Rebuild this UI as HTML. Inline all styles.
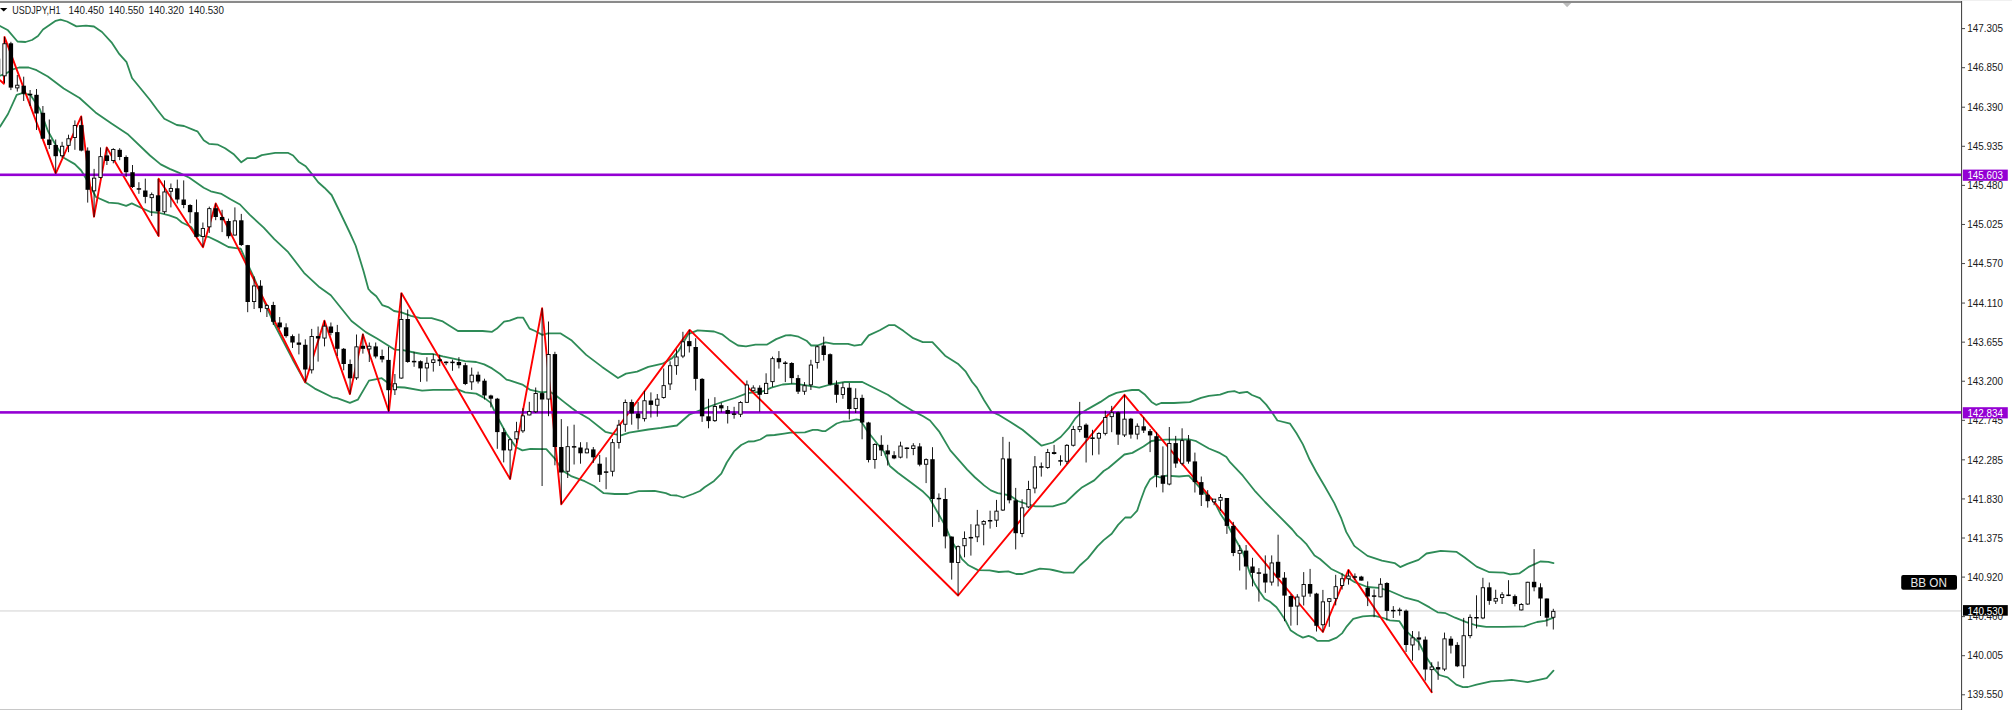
<!DOCTYPE html><html><head><meta charset="utf-8"><style>html,body{margin:0;padding:0;background:#fff;overflow:hidden}svg{display:block}text{font-family:"Liberation Sans",sans-serif}</style></head><body>
<svg width="2012" height="710" viewBox="0 0 2012 710">
<rect x="0" y="0" width="2012" height="710" fill="#fff"/>
<rect x="0" y="0" width="2012" height="1" fill="#f0f0f0"/>
<rect x="0" y="1" width="1962" height="2" fill="#8a8a8a"/>
<polygon points="1563,3 1571.3,3 1567.1,7.3" fill="#bdbdbd"/>
<rect x="0" y="610.3" width="1961" height="1.3" fill="#dcdcdc"/>
<polyline points="0,26 8,30.3 17.5,41.5 25.5,42 32,40 38,36 43,29.5 55.7,20.8 60.5,19.6 67,21.5 76.4,26.4 86,25.6 94,26.5 102,32 111.5,42.3 119.4,54.2 126.6,62.2 132,78 143.3,91.7 150,100 157.2,109.8 164.3,118.8 176.8,125 184,126 194.7,130.4 197.4,131.3 203.7,140.3 209,143.8 218,144.7 225.1,148.3 234.1,154.6 241.3,162.3 247.5,158.1 255.6,158.1 261.8,155.1 275.2,152.8 287.8,152.8 293.1,155.5 298.5,161.7 305.7,166.2 312.8,175.1 318.2,182.3 324.4,187.7 331.6,195 339.9,212 349.7,232.5 355.6,245.5 358.6,255 363.5,271 368.4,289 371.4,292.3 376.3,296.3 382.2,305.1 388.1,307.1 394,311 401.4,312.4 410.9,315.8 420.5,318.2 431.6,318.2 442.8,321.4 449.1,325.4 457.9,331 482.6,331 492.1,331.8 496.9,328.6 504.1,321.7 509.6,320.6 517.6,317.7 523.2,317.7 529.6,328.6 535.1,331 542.3,334.9 547.9,333.3 560.7,333.4 571.8,340.6 586.2,354.9 602.1,366.9 618,378 626,373.6 637.1,371.7 648.3,366.9 662.6,363.7 672.2,358.1 678.5,351 688.1,334.2 697.6,330.3 714.1,331.5 722.1,334.3 729.2,339.9 738,345.5 746,346.3 755.5,344.7 766.7,344.7 776.2,339.1 785.8,335.4 790.5,335.1 798.5,336.7 806.5,340.7 811.2,345.5 817.6,345.5 825.6,342.3 833.5,343.9 848,343.8 854.3,345.7 861.5,344.6 868.7,335.4 879.8,330.3 888.6,325.2 894.9,325.2 903.7,331.1 913.2,338.2 922.8,342.2 932.4,342.2 945.1,355.7 957.8,363.7 965.8,371.7 972.2,382 976.9,387.6 984.1,400.3 991.3,411.5 998.1,414.6 1010,421.8 1022.5,429.8 1032.1,437.8 1041.6,445.7 1052.8,442.5 1060.7,437 1068.7,428.2 1075.1,418.7 1079.8,413.9 1087.8,409.1 1100.5,401.9 1108.5,396.4 1116.5,392.9 1126,390.8 1132,390 1138.8,390 1145.1,394.8 1151.5,401.9 1156.4,404.9 1161.1,403 1173.9,403 1189.8,402.2 1201,397.9 1208.9,395.8 1220.1,394.7 1228,391.8 1234.4,391.1 1239.2,393 1247.1,391.8 1251.9,395 1259.9,398.2 1266.2,404.6 1272.6,413.3 1277.4,420.5 1290.1,423.7 1296.5,433.2 1302.9,444.4 1309.7,459.8 1316.3,472 1324.7,486.3 1334.3,503.1 1341.4,518.7 1346.2,531.9 1353.4,544.4 1354.8,546.4 1367.5,555.9 1381.9,560.7 1394.6,563.1 1400.2,567.1 1407.4,563.9 1418.5,559.9 1426.5,553.5 1440.8,550.8 1456.7,551.9 1464.7,557.5 1476.6,566.6 1489.4,572.2 1503.7,572.7 1510.1,574.3 1519.6,573.3 1529.2,566.6 1540.3,561.5 1548.3,561.8 1553.5,563.1" fill="none" stroke="#2e8b57" stroke-width="1.8" stroke-linejoin="round" stroke-linecap="round"/>
<polyline points="0,75.7 6.4,73.3 12.7,69.4 19,67.5 28.7,67.5 36.6,70.2 47.8,76.5 63.7,88.5 79.6,98 95.5,112.4 111.5,123.5 127.4,133.9 150,155.5 160.7,164.4 169.7,168.9 180.4,173.4 189.4,177.8 203.7,187.7 210.8,191.3 221.6,193.9 230.5,199.3 240,204.5 249.6,214.7 263.7,227.6 274.3,239.2 288.2,252.2 304,272.8 319.6,287.3 330.8,295.3 351.5,321 365.8,332.1 377,338.5 394.5,349.6 403,350.1 414.1,352.5 422.1,354 433.2,354 442.8,356.4 465,361.2 476.2,362 484.2,364.4 492.1,368.4 500.1,374 506.5,379.6 509.6,380.3 522.4,384.6 530.4,389.9 541.5,392.3 549.6,391.6 555.9,395.5 563.9,401.9 571.8,408 576.6,411.5 589.4,419.1 605.3,431.8 614.8,434.2 621.2,435.4 629.2,432.6 648.3,429.5 661,427.9 676.9,425.5 689.7,414.3 700,410.4 710.9,406 722.1,402 734.8,398 747.5,393.2 761.9,391.7 771.4,387.7 782.6,384.5 793.7,383.7 806.5,385.3 819.2,387.7 830.4,384.5 844.8,382 862.3,382 871.8,386.8 887.8,394.7 900.5,403.5 913.7,411.4 923.2,416.2 930,420.5 939,431.3 950.3,450.4 959.3,460.6 967.2,469.6 975.1,477.5 984.1,485.4 990.8,490.4 997.6,493.2 1002.1,493.8 1010,495.5 1017.7,501 1027.3,504.2 1035.3,506.3 1052.8,506.3 1065.5,502.6 1076.7,492 1081.4,487.8 1094.2,480.4 1103.7,471 1108.5,468 1124.4,454.5 1132.4,452.9 1143.5,446.5 1151.5,441 1157.9,440.2 1165.9,439.6 1189.8,439.5 1196.2,441.2 1208.9,448.5 1220.1,453.2 1226.4,457.1 1230,462.2 1242.8,475.7 1255.5,491.7 1265.1,502 1275.6,512.7 1281.6,518.7 1292.3,529.5 1297.1,535.4 1300.7,538.4 1306.7,544.4 1314.5,555.5 1320,559 1330.9,568.7 1342.1,574.2 1354.8,582.2 1367.5,587 1378.7,587.8 1389.8,591 1404.2,597.3 1418.5,601.2 1429.6,607.4 1437.6,612.3 1445.6,613.2 1455.1,617.7 1466.3,622.2 1476.6,625.5 1486.2,626.8 1503.7,626.8 1524.4,626.3 1530.8,624 1537.1,622 1545.1,620.8 1553.5,617.6" fill="none" stroke="#2e8b57" stroke-width="1.8" stroke-linejoin="round" stroke-linecap="round"/>
<polyline points="0,126.7 8,114 16.7,94.8 22.3,93.2 30.3,94.8 39.8,109 47.8,130.7 55.7,145 63.7,157.8 74.8,164.1 81.2,170.5 86,178.5 96,197 108.7,202.6 118.2,203.4 126.2,205.8 131.8,203.4 143.7,209 150,211.8 159.6,213 169.2,215.4 176.8,218.1 181.9,222.5 191.2,227 194.6,232.1 200,235.6 208.4,236.8 218,241.4 228.4,247 235.9,248.1 240.7,248.7 246.1,260.7 255,280 264,301 273.4,322.5 292.5,359.2 305.3,382.2 314.8,388.6 332.4,397.3 337.1,398.1 349.9,402.9 357.8,399.7 369,380.6 381.7,378.2 388.1,383 394.5,387 404.6,387.5 422.1,390.7 433.2,389.9 452.3,389.9 457.1,389.1 465.1,392.3 476.2,393.6 484.2,397.9 490.5,402.6 496.9,416.2 506.5,433.7 516,447.2 522.4,450.4 530.4,448.8 546.3,449.2 555.1,458.9 563.1,470.9 571.8,476.4 584.6,481.2 594.1,486 603.7,493.2 614.8,494 627.6,494 638.7,491.1 654.6,490.8 665.8,493.2 670.6,495.2 676.9,495.5 683.3,497.5 692.9,494 700,491 704.6,487.2 714.1,480.9 721.3,473.7 726.8,462.5 734,451.4 741.2,445 748.3,441.5 753.9,441.4 760.3,439.5 766.7,435.5 774.6,435 784.2,433.6 790.5,432.6 804.9,432.3 812.8,429.9 817.6,429.9 822.4,431.2 825.6,431 836.7,423.5 843.1,421.5 849.5,421.1 856.4,419.4 860.4,420.2 867.5,431.3 876.3,442.5 884.2,452 889.8,466 897.8,472.7 911.3,482.7 923.2,491.8 929.6,498.2 936.8,511 945,525.4 951.9,541.2 955.7,547.8 961.8,558.8 968.5,565.3 978,570.1 989.6,570.4 998.7,572 1008.3,571.3 1016.2,574 1022.6,574 1030,571.6 1040,568.7 1049.7,569.3 1052.8,570 1063.9,572.7 1073.5,572.7 1079.8,565.5 1087.8,558.4 1097.4,546.4 1103.7,540.1 1111.7,533.7 1118.1,524.9 1125.2,517.5 1130.8,517.5 1137.2,510.6 1140.4,501 1145.1,488.3 1149.9,479.6 1155.5,475.6 1160,477.5 1166.4,475.7 1179.1,476.5 1188.7,475.7 1195,482.1 1204.6,493.2 1214.1,501.2 1220.5,513.9 1226.9,523.5 1233.2,535.5 1242.8,552.2 1250,573.4 1254.5,583.5 1259.6,591.4 1264.6,598.7 1269.7,601.5 1276.5,607.2 1280.4,612.8 1284.9,619.5 1290.5,630.2 1297.3,634.8 1302.9,637.6 1308.6,635.9 1313.1,637.6 1317.6,640.9 1328.8,640.9 1336.7,637.6 1342.3,633.1 1346.8,626.3 1353.2,618.8 1362.8,616.4 1373.9,615.6 1383.5,618 1389.8,620.4 1399.4,621.2 1404.2,628.8 1410.5,635.2 1418.5,642 1426.5,657.5 1432.8,667.1 1439.2,675 1447.6,677.4 1456.3,684.6 1463,687.2 1467.9,687 1476.6,684.6 1491,681.4 1503.7,680.6 1511.7,679.8 1527.6,682.2 1538.7,679.8 1546.7,678.2 1553.5,670.6" fill="none" stroke="#2e8b57" stroke-width="1.8" stroke-linejoin="round" stroke-linecap="round"/>
<polyline points="0,80.2 3.9,83.7 4.5,36.9 55.7,173.7 81.2,116.4 94,216.7 106.7,147.4 158.7,236 158.7,178.8 203,247.2 215.7,203.4 305.3,382.2 324.4,320.6 349.9,394.1 362.9,334.5 388.9,411.7 401.4,293.1 510.1,479.1 542.1,308.3 561.3,504.3 689.7,329.9 958.1,595.5 1124.5,394.8 1322.9,632 1348.4,569.9 1431.7,692.2" fill="none" stroke="#ff0000" stroke-width="1.9" stroke-linejoin="round" stroke-linecap="round"/>
<rect x="0" y="173.5" width="1961" height="2.6" fill="#9400d3"/>
<rect x="0" y="411.1" width="1961" height="2.6" fill="#9400d3"/>
<g><line x1="-1.9" y1="55" x2="-1.9" y2="78" stroke="#000" stroke-width="0.9"/><line x1="4.5" y1="36.9" x2="4.5" y2="83.2" stroke="#000" stroke-width="0.9"/><line x1="10.9" y1="41.8" x2="10.9" y2="90.1" stroke="#000" stroke-width="0.9"/><line x1="17.3" y1="75" x2="17.3" y2="91.6" stroke="#000" stroke-width="0.9"/><line x1="23.7" y1="76.7" x2="23.7" y2="101" stroke="#000" stroke-width="0.9"/><line x1="30.1" y1="90" x2="30.1" y2="106" stroke="#000" stroke-width="0.9"/><line x1="36.5" y1="89" x2="36.5" y2="130" stroke="#000" stroke-width="0.9"/><line x1="42.9" y1="106" x2="42.9" y2="138.7" stroke="#000" stroke-width="0.9"/><line x1="49.3" y1="119.5" x2="49.3" y2="149" stroke="#000" stroke-width="0.9"/><line x1="55.7" y1="139.5" x2="55.7" y2="173.7" stroke="#000" stroke-width="0.9"/><line x1="62.1" y1="141.8" x2="62.1" y2="157.8" stroke="#000" stroke-width="0.9"/><line x1="68.5" y1="134.7" x2="68.5" y2="152.2" stroke="#000" stroke-width="0.9"/><line x1="74.9" y1="120.4" x2="74.9" y2="149.8" stroke="#000" stroke-width="0.9"/><line x1="81.3" y1="116.4" x2="81.3" y2="151.4" stroke="#000" stroke-width="0.9"/><line x1="87.7" y1="147.4" x2="87.7" y2="202.6" stroke="#000" stroke-width="0.9"/><line x1="94.1" y1="168.9" x2="94.1" y2="217" stroke="#000" stroke-width="0.9"/><line x1="100.5" y1="147.4" x2="100.5" y2="178.5" stroke="#000" stroke-width="0.9"/><line x1="106.9" y1="147.4" x2="106.9" y2="165" stroke="#000" stroke-width="0.9"/><line x1="113.3" y1="148.2" x2="113.3" y2="163.3" stroke="#000" stroke-width="0.9"/><line x1="119.7" y1="148.2" x2="119.7" y2="160.2" stroke="#000" stroke-width="0.9"/><line x1="126.1" y1="155.4" x2="126.1" y2="176.9" stroke="#000" stroke-width="0.9"/><line x1="132.5" y1="165" x2="132.5" y2="188" stroke="#000" stroke-width="0.9"/><line x1="138.9" y1="182.2" x2="138.9" y2="193.8" stroke="#000" stroke-width="0.9"/><line x1="145.3" y1="178.6" x2="145.3" y2="203.3" stroke="#000" stroke-width="0.9"/><line x1="151.7" y1="192.5" x2="151.7" y2="216" stroke="#000" stroke-width="0.9"/><line x1="158.1" y1="178.8" x2="158.1" y2="236" stroke="#000" stroke-width="0.9"/><line x1="164.5" y1="180.4" x2="164.5" y2="213.8" stroke="#000" stroke-width="0.9"/><line x1="170.9" y1="183.5" x2="170.9" y2="207.4" stroke="#000" stroke-width="0.9"/><line x1="177.3" y1="179.6" x2="177.3" y2="203.4" stroke="#000" stroke-width="0.9"/><line x1="183.7" y1="180.4" x2="183.7" y2="208.2" stroke="#000" stroke-width="0.9"/><line x1="190.1" y1="204.2" x2="190.1" y2="223.3" stroke="#000" stroke-width="0.9"/><line x1="196.5" y1="199.5" x2="196.5" y2="237.7" stroke="#000" stroke-width="0.9"/><line x1="202.9" y1="222.5" x2="202.9" y2="247" stroke="#000" stroke-width="0.9"/><line x1="209.3" y1="206.6" x2="209.3" y2="232.9" stroke="#000" stroke-width="0.9"/><line x1="215.7" y1="203.4" x2="215.7" y2="220.2" stroke="#000" stroke-width="0.9"/><line x1="222.1" y1="209.8" x2="222.1" y2="232.1" stroke="#000" stroke-width="0.9"/><line x1="228.5" y1="218.6" x2="228.5" y2="238.5" stroke="#000" stroke-width="0.9"/><line x1="234.9" y1="207.4" x2="234.9" y2="235.5" stroke="#000" stroke-width="0.9"/><line x1="241.3" y1="213.9" x2="241.3" y2="246" stroke="#000" stroke-width="0.9"/><line x1="247.7" y1="244.9" x2="247.7" y2="312.2" stroke="#000" stroke-width="0.9"/><line x1="254.1" y1="276.4" x2="254.1" y2="309" stroke="#000" stroke-width="0.9"/><line x1="260.5" y1="280.2" x2="260.5" y2="312.2" stroke="#000" stroke-width="0.9"/><line x1="266.9" y1="304.2" x2="266.9" y2="317" stroke="#000" stroke-width="0.9"/><line x1="273.3" y1="301.8" x2="273.3" y2="325" stroke="#000" stroke-width="0.9"/><line x1="279.7" y1="317" x2="279.7" y2="328.9" stroke="#000" stroke-width="0.9"/><line x1="286.1" y1="323.3" x2="286.1" y2="337.7" stroke="#000" stroke-width="0.9"/><line x1="292.5" y1="334.5" x2="292.5" y2="348" stroke="#000" stroke-width="0.9"/><line x1="298.9" y1="333.7" x2="298.9" y2="354.4" stroke="#000" stroke-width="0.9"/><line x1="305.3" y1="339.3" x2="305.3" y2="382.2" stroke="#000" stroke-width="0.9"/><line x1="311.7" y1="328.9" x2="311.7" y2="373.5" stroke="#000" stroke-width="0.9"/><line x1="318.1" y1="326.5" x2="318.1" y2="361.6" stroke="#000" stroke-width="0.9"/><line x1="324.5" y1="320.6" x2="324.5" y2="346.4" stroke="#000" stroke-width="0.9"/><line x1="330.9" y1="322.5" x2="330.9" y2="335.3" stroke="#000" stroke-width="0.9"/><line x1="337.3" y1="324.9" x2="337.3" y2="356" stroke="#000" stroke-width="0.9"/><line x1="343.7" y1="348" x2="343.7" y2="370.3" stroke="#000" stroke-width="0.9"/><line x1="350.1" y1="359.5" x2="350.1" y2="394.1" stroke="#000" stroke-width="0.9"/><line x1="356.5" y1="334.5" x2="356.5" y2="379.9" stroke="#000" stroke-width="0.9"/><line x1="362.9" y1="333.7" x2="362.9" y2="353.6" stroke="#000" stroke-width="0.9"/><line x1="369.3" y1="342.5" x2="369.3" y2="362" stroke="#000" stroke-width="0.9"/><line x1="375.7" y1="342.5" x2="375.7" y2="358.4" stroke="#000" stroke-width="0.9"/><line x1="382.1" y1="349.6" x2="382.1" y2="362.4" stroke="#000" stroke-width="0.9"/><line x1="388.5" y1="346.8" x2="388.5" y2="411.7" stroke="#000" stroke-width="0.9"/><line x1="394.9" y1="374" x2="394.9" y2="395" stroke="#000" stroke-width="0.9"/><line x1="401.3" y1="293.1" x2="401.3" y2="378.7" stroke="#000" stroke-width="0.9"/><line x1="407.7" y1="309.5" x2="407.7" y2="362.8" stroke="#000" stroke-width="0.9"/><line x1="414.1" y1="351.7" x2="414.1" y2="366.8" stroke="#000" stroke-width="0.9"/><line x1="420.5" y1="360.4" x2="420.5" y2="381.9" stroke="#000" stroke-width="0.9"/><line x1="426.9" y1="357.2" x2="426.9" y2="381.5" stroke="#000" stroke-width="0.9"/><line x1="433.3" y1="354" x2="433.3" y2="371.6" stroke="#000" stroke-width="0.9"/><line x1="439.7" y1="354.8" x2="439.7" y2="366" stroke="#000" stroke-width="0.9"/><line x1="446.1" y1="361.2" x2="446.1" y2="365.2" stroke="#000" stroke-width="0.9"/><line x1="452.5" y1="359.6" x2="452.5" y2="370.8" stroke="#000" stroke-width="0.9"/><line x1="458.9" y1="357.2" x2="458.9" y2="368.4" stroke="#000" stroke-width="0.9"/><line x1="465.3" y1="362.8" x2="465.3" y2="385.1" stroke="#000" stroke-width="0.9"/><line x1="471.7" y1="367.6" x2="471.7" y2="389.9" stroke="#000" stroke-width="0.9"/><line x1="478.1" y1="371.6" x2="478.1" y2="383.5" stroke="#000" stroke-width="0.9"/><line x1="484.5" y1="378.7" x2="484.5" y2="399.5" stroke="#000" stroke-width="0.9"/><line x1="490.9" y1="394.7" x2="490.9" y2="407.4" stroke="#000" stroke-width="0.9"/><line x1="497.3" y1="397.9" x2="497.3" y2="448.8" stroke="#000" stroke-width="0.9"/><line x1="503.7" y1="428.1" x2="503.7" y2="462.4" stroke="#000" stroke-width="0.9"/><line x1="510.1" y1="438.5" x2="510.1" y2="479.1" stroke="#000" stroke-width="0.9"/><line x1="516.5" y1="421.8" x2="516.5" y2="443.2" stroke="#000" stroke-width="0.9"/><line x1="522.9" y1="408.2" x2="522.9" y2="432.9" stroke="#000" stroke-width="0.9"/><line x1="529.3" y1="401.8" x2="529.3" y2="415.4" stroke="#000" stroke-width="0.9"/><line x1="535.7" y1="387.5" x2="535.7" y2="413" stroke="#000" stroke-width="0.9"/><line x1="542.1" y1="308.3" x2="542.1" y2="486" stroke="#000" stroke-width="0.9"/><line x1="548.5" y1="321.5" x2="548.5" y2="416.2" stroke="#000" stroke-width="0.9"/><line x1="554.9" y1="351.8" x2="554.9" y2="465.3" stroke="#000" stroke-width="0.9"/><line x1="561.3" y1="419.1" x2="561.3" y2="504.3" stroke="#000" stroke-width="0.9"/><line x1="567.7" y1="426.3" x2="567.7" y2="478" stroke="#000" stroke-width="0.9"/><line x1="574.1" y1="424.7" x2="574.1" y2="464.5" stroke="#000" stroke-width="0.9"/><line x1="580.5" y1="442.2" x2="580.5" y2="463.7" stroke="#000" stroke-width="0.9"/><line x1="586.9" y1="442.2" x2="586.9" y2="453.3" stroke="#000" stroke-width="0.9"/><line x1="593.3" y1="447" x2="593.3" y2="462.9" stroke="#000" stroke-width="0.9"/><line x1="599.7" y1="454.9" x2="599.7" y2="482" stroke="#000" stroke-width="0.9"/><line x1="606.1" y1="457.3" x2="606.1" y2="489.2" stroke="#000" stroke-width="0.9"/><line x1="612.5" y1="439" x2="612.5" y2="476.4" stroke="#000" stroke-width="0.9"/><line x1="618.9" y1="419.9" x2="618.9" y2="448.6" stroke="#000" stroke-width="0.9"/><line x1="625.3" y1="399.5" x2="625.3" y2="431.8" stroke="#000" stroke-width="0.9"/><line x1="631.7" y1="399.5" x2="631.7" y2="424.7" stroke="#000" stroke-width="0.9"/><line x1="638.1" y1="401.9" x2="638.1" y2="429.5" stroke="#000" stroke-width="0.9"/><line x1="644.5" y1="390.8" x2="644.5" y2="421.5" stroke="#000" stroke-width="0.9"/><line x1="650.9" y1="392.4" x2="650.9" y2="417.5" stroke="#000" stroke-width="0.9"/><line x1="657.3" y1="394" x2="657.3" y2="416.7" stroke="#000" stroke-width="0.9"/><line x1="663.7" y1="368.5" x2="663.7" y2="398.7" stroke="#000" stroke-width="0.9"/><line x1="670.1" y1="361.3" x2="670.1" y2="390" stroke="#000" stroke-width="0.9"/><line x1="676.5" y1="349.4" x2="676.5" y2="374.8" stroke="#000" stroke-width="0.9"/><line x1="682.9" y1="331.8" x2="682.9" y2="358.1" stroke="#000" stroke-width="0.9"/><line x1="689.3" y1="329.9" x2="689.3" y2="352.5" stroke="#000" stroke-width="0.9"/><line x1="695.7" y1="338.2" x2="695.7" y2="390.5" stroke="#000" stroke-width="0.9"/><line x1="702.1" y1="378.1" x2="702.1" y2="421.9" stroke="#000" stroke-width="0.9"/><line x1="708.5" y1="398.8" x2="708.5" y2="428.3" stroke="#000" stroke-width="0.9"/><line x1="714.9" y1="397.2" x2="714.9" y2="421.9" stroke="#000" stroke-width="0.9"/><line x1="721.3" y1="402.8" x2="721.3" y2="412.4" stroke="#000" stroke-width="0.9"/><line x1="727.7" y1="406" x2="727.7" y2="423.5" stroke="#000" stroke-width="0.9"/><line x1="734.1" y1="406.8" x2="734.1" y2="418.7" stroke="#000" stroke-width="0.9"/><line x1="740.5" y1="401.2" x2="740.5" y2="417.1" stroke="#000" stroke-width="0.9"/><line x1="746.9" y1="380.5" x2="746.9" y2="402.8" stroke="#000" stroke-width="0.9"/><line x1="753.3" y1="385.3" x2="753.3" y2="391.7" stroke="#000" stroke-width="0.9"/><line x1="759.7" y1="385.3" x2="759.7" y2="411.6" stroke="#000" stroke-width="0.9"/><line x1="766.1" y1="373.3" x2="766.1" y2="394" stroke="#000" stroke-width="0.9"/><line x1="772.5" y1="356.6" x2="772.5" y2="386.9" stroke="#000" stroke-width="0.9"/><line x1="778.9" y1="351.1" x2="778.9" y2="368.6" stroke="#000" stroke-width="0.9"/><line x1="785.3" y1="361.1" x2="785.3" y2="382.1" stroke="#000" stroke-width="0.9"/><line x1="791.7" y1="362.2" x2="791.7" y2="383.7" stroke="#000" stroke-width="0.9"/><line x1="798.1" y1="374.9" x2="798.1" y2="394" stroke="#000" stroke-width="0.9"/><line x1="804.5" y1="382.1" x2="804.5" y2="394.8" stroke="#000" stroke-width="0.9"/><line x1="810.9" y1="359.8" x2="810.9" y2="390" stroke="#000" stroke-width="0.9"/><line x1="817.3" y1="345.5" x2="817.3" y2="368.6" stroke="#000" stroke-width="0.9"/><line x1="823.7" y1="336.7" x2="823.7" y2="360.6" stroke="#000" stroke-width="0.9"/><line x1="830.1" y1="353.4" x2="830.1" y2="385.3" stroke="#000" stroke-width="0.9"/><line x1="836.5" y1="380.5" x2="836.5" y2="402.8" stroke="#000" stroke-width="0.9"/><line x1="842.9" y1="382.4" x2="842.9" y2="398.8" stroke="#000" stroke-width="0.9"/><line x1="849.3" y1="382.9" x2="849.3" y2="419.5" stroke="#000" stroke-width="0.9"/><line x1="855.7" y1="388.3" x2="855.7" y2="413" stroke="#000" stroke-width="0.9"/><line x1="862.1" y1="394.7" x2="862.1" y2="439.3" stroke="#000" stroke-width="0.9"/><line x1="868.5" y1="421.8" x2="868.5" y2="462.4" stroke="#000" stroke-width="0.9"/><line x1="874.9" y1="443.2" x2="874.9" y2="468.7" stroke="#000" stroke-width="0.9"/><line x1="881.3" y1="435.3" x2="881.3" y2="456" stroke="#000" stroke-width="0.9"/><line x1="887.7" y1="444.8" x2="887.7" y2="465.5" stroke="#000" stroke-width="0.9"/><line x1="894.1" y1="451.2" x2="894.1" y2="459.2" stroke="#000" stroke-width="0.9"/><line x1="900.5" y1="441.7" x2="900.5" y2="458.4" stroke="#000" stroke-width="0.9"/><line x1="906.9" y1="447.2" x2="906.9" y2="458.4" stroke="#000" stroke-width="0.9"/><line x1="913.3" y1="443.2" x2="913.3" y2="455.2" stroke="#000" stroke-width="0.9"/><line x1="919.7" y1="443.2" x2="919.7" y2="466.3" stroke="#000" stroke-width="0.9"/><line x1="926.1" y1="458.4" x2="926.1" y2="483.1" stroke="#000" stroke-width="0.9"/><line x1="932.5" y1="447.2" x2="932.5" y2="526.9" stroke="#000" stroke-width="0.9"/><line x1="938.9" y1="493.4" x2="938.9" y2="522.1" stroke="#000" stroke-width="0.9"/><line x1="945.3" y1="487.9" x2="945.3" y2="548.4" stroke="#000" stroke-width="0.9"/><line x1="951.7" y1="536.4" x2="951.7" y2="579.6" stroke="#000" stroke-width="0.9"/><line x1="958.1" y1="545.4" x2="958.1" y2="595.5" stroke="#000" stroke-width="0.9"/><line x1="964.5" y1="531.4" x2="964.5" y2="557.3" stroke="#000" stroke-width="0.9"/><line x1="970.9" y1="524.2" x2="970.9" y2="555.6" stroke="#000" stroke-width="0.9"/><line x1="977.3" y1="509.9" x2="977.3" y2="542.1" stroke="#000" stroke-width="0.9"/><line x1="983.7" y1="520.2" x2="983.7" y2="545.3" stroke="#000" stroke-width="0.9"/><line x1="990.1" y1="510.7" x2="990.1" y2="528.6" stroke="#000" stroke-width="0.9"/><line x1="996.5" y1="499.9" x2="996.5" y2="527" stroke="#000" stroke-width="0.9"/><line x1="1002.9" y1="436.9" x2="1002.9" y2="511" stroke="#000" stroke-width="0.9"/><line x1="1009.3" y1="441.8" x2="1009.3" y2="503.4" stroke="#000" stroke-width="0.9"/><line x1="1015.7" y1="487.9" x2="1015.7" y2="549.4" stroke="#000" stroke-width="0.9"/><line x1="1022.1" y1="499.3" x2="1022.1" y2="537.2" stroke="#000" stroke-width="0.9"/><line x1="1028.5" y1="480.8" x2="1028.5" y2="508.2" stroke="#000" stroke-width="0.9"/><line x1="1034.9" y1="456.1" x2="1034.9" y2="493.3" stroke="#000" stroke-width="0.9"/><line x1="1041.3" y1="462.5" x2="1041.3" y2="476.6" stroke="#000" stroke-width="0.9"/><line x1="1047.7" y1="448.9" x2="1047.7" y2="468.8" stroke="#000" stroke-width="0.9"/><line x1="1054.1" y1="444.9" x2="1054.1" y2="454.5" stroke="#000" stroke-width="0.9"/><line x1="1060.5" y1="455.3" x2="1060.5" y2="465.6" stroke="#000" stroke-width="0.9"/><line x1="1066.9" y1="444.1" x2="1066.9" y2="464" stroke="#000" stroke-width="0.9"/><line x1="1073.3" y1="425.8" x2="1073.3" y2="446.5" stroke="#000" stroke-width="0.9"/><line x1="1079.7" y1="401.9" x2="1079.7" y2="432.2" stroke="#000" stroke-width="0.9"/><line x1="1086.1" y1="423.4" x2="1086.1" y2="462.5" stroke="#000" stroke-width="0.9"/><line x1="1092.5" y1="429.8" x2="1092.5" y2="455.3" stroke="#000" stroke-width="0.9"/><line x1="1098.9" y1="432.2" x2="1098.9" y2="454.5" stroke="#000" stroke-width="0.9"/><line x1="1105.3" y1="410.7" x2="1105.3" y2="435.4" stroke="#000" stroke-width="0.9"/><line x1="1111.7" y1="405.9" x2="1111.7" y2="432.2" stroke="#000" stroke-width="0.9"/><line x1="1118.1" y1="411.5" x2="1118.1" y2="444.9" stroke="#000" stroke-width="0.9"/><line x1="1124.5" y1="394.8" x2="1124.5" y2="437" stroke="#000" stroke-width="0.9"/><line x1="1130.9" y1="417.9" x2="1130.9" y2="438.6" stroke="#000" stroke-width="0.9"/><line x1="1137.3" y1="423.4" x2="1137.3" y2="439.4" stroke="#000" stroke-width="0.9"/><line x1="1143.7" y1="417.1" x2="1143.7" y2="433" stroke="#000" stroke-width="0.9"/><line x1="1150.1" y1="429" x2="1150.1" y2="452.1" stroke="#000" stroke-width="0.9"/><line x1="1156.5" y1="432.2" x2="1156.5" y2="487.3" stroke="#000" stroke-width="0.9"/><line x1="1162.9" y1="446.4" x2="1162.9" y2="492.4" stroke="#000" stroke-width="0.9"/><line x1="1169.3" y1="427" x2="1169.3" y2="485.3" stroke="#000" stroke-width="0.9"/><line x1="1175.7" y1="435.9" x2="1175.7" y2="467.8" stroke="#000" stroke-width="0.9"/><line x1="1182.1" y1="428.3" x2="1182.1" y2="465.4" stroke="#000" stroke-width="0.9"/><line x1="1188.5" y1="435" x2="1188.5" y2="463.7" stroke="#000" stroke-width="0.9"/><line x1="1194.9" y1="452.6" x2="1194.9" y2="492.5" stroke="#000" stroke-width="0.9"/><line x1="1201.3" y1="476.5" x2="1201.3" y2="506" stroke="#000" stroke-width="0.9"/><line x1="1207.7" y1="490.1" x2="1207.7" y2="507.6" stroke="#000" stroke-width="0.9"/><line x1="1214.1" y1="499.6" x2="1214.1" y2="505.2" stroke="#000" stroke-width="0.9"/><line x1="1220.5" y1="494" x2="1220.5" y2="510.8" stroke="#000" stroke-width="0.9"/><line x1="1226.9" y1="498" x2="1226.9" y2="533.9" stroke="#000" stroke-width="0.9"/><line x1="1233.3" y1="521.9" x2="1233.3" y2="556.2" stroke="#000" stroke-width="0.9"/><line x1="1239.7" y1="545" x2="1239.7" y2="570.5" stroke="#000" stroke-width="0.9"/><line x1="1246.1" y1="545" x2="1246.1" y2="589.6" stroke="#000" stroke-width="0.9"/><line x1="1252.5" y1="557.8" x2="1252.5" y2="586.4" stroke="#000" stroke-width="0.9"/><line x1="1258.9" y1="568.1" x2="1258.9" y2="601.6" stroke="#000" stroke-width="0.9"/><line x1="1265.3" y1="555.4" x2="1265.3" y2="592.8" stroke="#000" stroke-width="0.9"/><line x1="1271.7" y1="555.4" x2="1271.7" y2="585.6" stroke="#000" stroke-width="0.9"/><line x1="1278.1" y1="534.7" x2="1278.1" y2="586.4" stroke="#000" stroke-width="0.9"/><line x1="1284.5" y1="572.1" x2="1284.5" y2="621.2" stroke="#000" stroke-width="0.9"/><line x1="1290.9" y1="594.4" x2="1290.9" y2="625.7" stroke="#000" stroke-width="0.9"/><line x1="1297.3" y1="594.2" x2="1297.3" y2="625.2" stroke="#000" stroke-width="0.9"/><line x1="1303.7" y1="572.1" x2="1303.7" y2="605.5" stroke="#000" stroke-width="0.9"/><line x1="1310.1" y1="568.9" x2="1310.1" y2="596.8" stroke="#000" stroke-width="0.9"/><line x1="1316.5" y1="592.8" x2="1316.5" y2="631.5" stroke="#000" stroke-width="0.9"/><line x1="1322.9" y1="589.9" x2="1322.9" y2="632.2" stroke="#000" stroke-width="0.9"/><line x1="1329.3" y1="598.1" x2="1329.3" y2="626.8" stroke="#000" stroke-width="0.9"/><line x1="1335.7" y1="574.8" x2="1335.7" y2="605.4" stroke="#000" stroke-width="0.9"/><line x1="1342.1" y1="573.4" x2="1342.1" y2="589.5" stroke="#000" stroke-width="0.9"/><line x1="1348.5" y1="569.9" x2="1348.5" y2="584.6" stroke="#000" stroke-width="0.9"/><line x1="1354.9" y1="573.4" x2="1354.9" y2="579.8" stroke="#000" stroke-width="0.9"/><line x1="1361.3" y1="575.8" x2="1361.3" y2="580.6" stroke="#000" stroke-width="0.9"/><line x1="1367.7" y1="581.4" x2="1367.7" y2="606.1" stroke="#000" stroke-width="0.9"/><line x1="1374.1" y1="589.4" x2="1374.1" y2="617.2" stroke="#000" stroke-width="0.9"/><line x1="1380.5" y1="578.2" x2="1380.5" y2="597.3" stroke="#000" stroke-width="0.9"/><line x1="1386.9" y1="582.2" x2="1386.9" y2="620.4" stroke="#000" stroke-width="0.9"/><line x1="1393.3" y1="606.1" x2="1393.3" y2="618" stroke="#000" stroke-width="0.9"/><line x1="1399.7" y1="607.7" x2="1399.7" y2="615.6" stroke="#000" stroke-width="0.9"/><line x1="1406.1" y1="609.5" x2="1406.1" y2="652" stroke="#000" stroke-width="0.9"/><line x1="1412.5" y1="631" x2="1412.5" y2="660.7" stroke="#000" stroke-width="0.9"/><line x1="1418.9" y1="631.4" x2="1418.9" y2="650.3" stroke="#000" stroke-width="0.9"/><line x1="1425.3" y1="636.5" x2="1425.3" y2="680.6" stroke="#000" stroke-width="0.9"/><line x1="1431.7" y1="662.3" x2="1431.7" y2="692.2" stroke="#000" stroke-width="0.9"/><line x1="1438.1" y1="661.5" x2="1438.1" y2="679.8" stroke="#000" stroke-width="0.9"/><line x1="1444.5" y1="632.6" x2="1444.5" y2="671.1" stroke="#000" stroke-width="0.9"/><line x1="1450.9" y1="636.2" x2="1450.9" y2="653.5" stroke="#000" stroke-width="0.9"/><line x1="1457.3" y1="642.2" x2="1457.3" y2="667.1" stroke="#000" stroke-width="0.9"/><line x1="1463.7" y1="617.9" x2="1463.7" y2="678.2" stroke="#000" stroke-width="0.9"/><line x1="1470.1" y1="614.4" x2="1470.1" y2="638.3" stroke="#000" stroke-width="0.9"/><line x1="1476.5" y1="595.3" x2="1476.5" y2="628.4" stroke="#000" stroke-width="0.9"/><line x1="1482.9" y1="577.8" x2="1482.9" y2="619.2" stroke="#000" stroke-width="0.9"/><line x1="1489.3" y1="582.5" x2="1489.3" y2="604.8" stroke="#000" stroke-width="0.9"/><line x1="1495.7" y1="589.7" x2="1495.7" y2="604" stroke="#000" stroke-width="0.9"/><line x1="1502.1" y1="592.1" x2="1502.1" y2="604" stroke="#000" stroke-width="0.9"/><line x1="1508.5" y1="580.2" x2="1508.5" y2="596.1" stroke="#000" stroke-width="0.9"/><line x1="1514.9" y1="594.5" x2="1514.9" y2="606.4" stroke="#000" stroke-width="0.9"/><line x1="1521.3" y1="603.2" x2="1521.3" y2="610.4" stroke="#000" stroke-width="0.9"/><line x1="1527.7" y1="581.8" x2="1527.7" y2="604.8" stroke="#000" stroke-width="0.9"/><line x1="1534.1" y1="549.1" x2="1534.1" y2="591.3" stroke="#000" stroke-width="0.9"/><line x1="1540.5" y1="583.3" x2="1540.5" y2="616" stroke="#000" stroke-width="0.9"/><line x1="1546.9" y1="598.5" x2="1546.9" y2="626.4" stroke="#000" stroke-width="0.9"/><line x1="1553.3" y1="608.8" x2="1553.3" y2="629.5" stroke="#000" stroke-width="0.9"/><rect x="-3.55" y="59.05" width="3.3" height="14.8" fill="#fff" stroke="#000" stroke-width="0.9"/><rect x="2.85" y="43.75" width="3.3" height="32.1" fill="#fff" stroke="#000" stroke-width="0.9"/><rect x="8.7" y="43.3" width="4.4" height="44.3" fill="#000"/><rect x="15.65" y="85.2" width="3.3" height="2.7" fill="#fff" stroke="#000" stroke-width="0.9"/><rect x="21.5" y="85.7" width="4.4" height="8.1" fill="#000"/><rect x="27.9" y="93.75" width="4.4" height="1.5" fill="#000"/><rect x="34.3" y="94.8" width="4.4" height="18.7" fill="#000"/><rect x="40.7" y="112.8" width="4.4" height="25.9" fill="#000"/><rect x="47.1" y="139.5" width="4.4" height="5.5" fill="#000"/><rect x="53.5" y="145" width="4.4" height="11.2" fill="#000"/><rect x="60.45" y="146.25" width="3.3" height="9.5" fill="#fff" stroke="#000" stroke-width="0.9"/><rect x="66.85" y="138.75" width="3.3" height="6.6" fill="#fff" stroke="#000" stroke-width="0.9"/><rect x="73.25" y="125.55" width="3.3" height="11.9" fill="#fff" stroke="#000" stroke-width="0.9"/><rect x="79.1" y="125.1" width="4.4" height="25.5" fill="#000"/><rect x="85.5" y="150.6" width="4.4" height="39.2" fill="#000"/><rect x="92.45" y="178.15" width="3.3" height="12.7" fill="#fff" stroke="#000" stroke-width="0.9"/><rect x="98.85" y="156.65" width="3.3" height="20.8" fill="#fff" stroke="#000" stroke-width="0.9"/><rect x="104.7" y="155.4" width="4.4" height="5.6" fill="#000"/><rect x="111.65" y="149.45" width="3.3" height="11.1" fill="#fff" stroke="#000" stroke-width="0.9"/><rect x="117.5" y="149.8" width="4.4" height="7.2" fill="#000"/><rect x="123.9" y="157" width="4.4" height="15.2" fill="#000"/><rect x="130.3" y="172.2" width="4.4" height="14.8" fill="#000"/><rect x="136.7" y="188.2" width="4.4" height="1.5" fill="#000"/><rect x="143.1" y="190.5" width="4.4" height="6.4" fill="#000"/><rect x="150.05" y="194.65" width="3.3" height="3" fill="#fff" stroke="#000" stroke-width="0.9"/><rect x="155.9" y="195.3" width="4.4" height="16.1" fill="#000"/><rect x="162.85" y="191.95" width="3.3" height="19.8" fill="#fff" stroke="#000" stroke-width="0.9"/><rect x="169.25" y="188.55" width="3.3" height="2.7" fill="#fff" stroke="#000" stroke-width="0.9"/><rect x="175.1" y="188.3" width="4.4" height="11.2" fill="#000"/><rect x="181.5" y="199.5" width="4.4" height="5.5" fill="#000"/><rect x="187.9" y="205" width="4.4" height="7.2" fill="#000"/><rect x="194.3" y="212.2" width="4.4" height="24.7" fill="#000"/><rect x="201.25" y="228.55" width="3.3" height="7.9" fill="#fff" stroke="#000" stroke-width="0.9"/><rect x="207.65" y="208.65" width="3.3" height="18.2" fill="#fff" stroke="#000" stroke-width="0.9"/><rect x="213.5" y="208.2" width="4.4" height="8.8" fill="#000"/><rect x="219.9" y="217" width="4.4" height="3.2" fill="#000"/><rect x="226.3" y="221" width="4.4" height="15.2" fill="#000"/><rect x="233.25" y="220.85" width="3.3" height="14.2" fill="#fff" stroke="#000" stroke-width="0.9"/><rect x="239.1" y="220.3" width="4.4" height="24.7" fill="#000"/><rect x="245.5" y="245.1" width="4.4" height="56.9" fill="#000"/><rect x="252.45" y="285.95" width="3.3" height="15.6" fill="#fff" stroke="#000" stroke-width="0.9"/><rect x="258.3" y="285.7" width="4.4" height="22.5" fill="#000"/><rect x="265.25" y="305.65" width="3.3" height="2.7" fill="#fff" stroke="#000" stroke-width="0.9"/><rect x="271.1" y="305" width="4.4" height="16.8" fill="#000"/><rect x="277.5" y="322.5" width="4.4" height="4.8" fill="#000"/><rect x="283.9" y="327.3" width="4.4" height="8.8" fill="#000"/><rect x="290.3" y="336.1" width="4.4" height="6.4" fill="#000"/><rect x="296.7" y="342.5" width="4.4" height="2.3" fill="#000"/><rect x="303.1" y="344.8" width="4.4" height="24.7" fill="#000"/><rect x="310.05" y="336.55" width="3.3" height="33.3" fill="#fff" stroke="#000" stroke-width="0.9"/><rect x="315.9" y="336.1" width="4.4" height="2.4" fill="#000"/><rect x="322.85" y="326.15" width="3.3" height="11.9" fill="#fff" stroke="#000" stroke-width="0.9"/><rect x="328.7" y="326.5" width="4.4" height="6.4" fill="#000"/><rect x="335.1" y="332.1" width="4.4" height="16.7" fill="#000"/><rect x="341.5" y="348.8" width="4.4" height="15.2" fill="#000"/><rect x="347.9" y="364" width="4.4" height="14.3" fill="#000"/><rect x="354.85" y="346.85" width="3.3" height="31" fill="#fff" stroke="#000" stroke-width="0.9"/><rect x="360.7" y="345.8" width="4.4" height="3" fill="#000"/><rect x="367.65" y="346.25" width="3.3" height="2.7" fill="#fff" stroke="#000" stroke-width="0.9"/><rect x="373.5" y="346.4" width="4.4" height="10.1" fill="#000"/><rect x="379.9" y="356" width="4.4" height="3.5" fill="#000"/><rect x="386.3" y="359.9" width="4.4" height="30.3" fill="#000"/><rect x="393.25" y="383.75" width="3.3" height="6" fill="#fff" stroke="#000" stroke-width="0.9"/><rect x="399.65" y="319.45" width="3.3" height="58.6" fill="#fff" stroke="#000" stroke-width="0.9"/><rect x="405.5" y="319" width="4.4" height="43" fill="#000"/><rect x="411.9" y="360.85" width="4.4" height="1.5" fill="#000"/><rect x="418.3" y="361.2" width="4.4" height="7.2" fill="#000"/><rect x="425.25" y="363.25" width="3.3" height="4.7" fill="#fff" stroke="#000" stroke-width="0.9"/><rect x="431.65" y="359.85" width="3.3" height="2.7" fill="#fff" stroke="#000" stroke-width="0.9"/><rect x="437.5" y="359.3" width="4.4" height="1.9" fill="#000"/><rect x="443.9" y="361.65" width="4.4" height="1.5" fill="#000"/><rect x="450.3" y="361.65" width="4.4" height="1.5" fill="#000"/><rect x="456.7" y="362" width="4.4" height="3.2" fill="#000"/><rect x="463.1" y="365.2" width="4.4" height="18.8" fill="#000"/><rect x="470.05" y="375.15" width="3.3" height="6.7" fill="#fff" stroke="#000" stroke-width="0.9"/><rect x="475.9" y="374.7" width="4.4" height="6.8" fill="#000"/><rect x="482.3" y="380.7" width="4.4" height="14.8" fill="#000"/><rect x="488.7" y="395.5" width="4.4" height="3.2" fill="#000"/><rect x="495.1" y="398.7" width="4.4" height="33.4" fill="#000"/><rect x="501.5" y="432.1" width="4.4" height="18.3" fill="#000"/><rect x="508.45" y="439.75" width="3.3" height="10.2" fill="#fff" stroke="#000" stroke-width="0.9"/><rect x="514.85" y="431.75" width="3.3" height="7.1" fill="#fff" stroke="#000" stroke-width="0.9"/><rect x="521.25" y="415.85" width="3.3" height="15" fill="#fff" stroke="#000" stroke-width="0.9"/><rect x="527.65" y="411.55" width="3.3" height="3.4" fill="#fff" stroke="#000" stroke-width="0.9"/><rect x="534.05" y="393.55" width="3.3" height="18.2" fill="#fff" stroke="#000" stroke-width="0.9"/><rect x="539.9" y="393.1" width="4.4" height="6.4" fill="#000"/><rect x="546.85" y="354.55" width="3.3" height="44.5" fill="#fff" stroke="#000" stroke-width="0.9"/><rect x="552.7" y="354.1" width="4.4" height="92.9" fill="#000"/><rect x="559.1" y="447" width="4.4" height="25.5" fill="#000"/><rect x="566.05" y="446.65" width="3.3" height="24.6" fill="#fff" stroke="#000" stroke-width="0.9"/><rect x="571.9" y="446.1" width="4.4" height="1.5" fill="#000"/><rect x="578.3" y="447.5" width="4.4" height="5.8" fill="#000"/><rect x="585.25" y="449.05" width="3.3" height="3.8" fill="#fff" stroke="#000" stroke-width="0.9"/><rect x="591.1" y="449.4" width="4.4" height="7.9" fill="#000"/><rect x="597.5" y="463.7" width="4.4" height="11.1" fill="#000"/><rect x="603.9" y="471.35" width="4.4" height="1.5" fill="#000"/><rect x="610.85" y="442.65" width="3.3" height="28.6" fill="#fff" stroke="#000" stroke-width="0.9"/><rect x="617.25" y="425.15" width="3.3" height="17.4" fill="#fff" stroke="#000" stroke-width="0.9"/><rect x="623.65" y="402.45" width="3.3" height="21.8" fill="#fff" stroke="#000" stroke-width="0.9"/><rect x="629.5" y="402" width="4.4" height="11.5" fill="#000"/><rect x="635.9" y="413.5" width="4.4" height="4.8" fill="#000"/><rect x="642.85" y="400.75" width="3.3" height="17.9" fill="#fff" stroke="#000" stroke-width="0.9"/><rect x="648.7" y="400.5" width="4.4" height="4.4" fill="#000"/><rect x="655.65" y="399.15" width="3.3" height="6.1" fill="#fff" stroke="#000" stroke-width="0.9"/><rect x="662.05" y="385.65" width="3.3" height="11.8" fill="#fff" stroke="#000" stroke-width="0.9"/><rect x="668.45" y="365.75" width="3.3" height="18.2" fill="#fff" stroke="#000" stroke-width="0.9"/><rect x="674.85" y="356.95" width="3.3" height="8.7" fill="#fff" stroke="#000" stroke-width="0.9"/><rect x="681.25" y="341.85" width="3.3" height="14.2" fill="#fff" stroke="#000" stroke-width="0.9"/><rect x="687.1" y="341.1" width="4.4" height="5.1" fill="#000"/><rect x="693.5" y="347" width="4.4" height="31.9" fill="#000"/><rect x="699.9" y="378.9" width="4.4" height="37.4" fill="#000"/><rect x="706.3" y="416.3" width="4.4" height="4.8" fill="#000"/><rect x="713.25" y="406.45" width="3.3" height="14.2" fill="#fff" stroke="#000" stroke-width="0.9"/><rect x="719.1" y="405.2" width="4.4" height="3.2" fill="#000"/><rect x="725.5" y="410" width="4.4" height="3.9" fill="#000"/><rect x="731.9" y="413.4" width="4.4" height="1.5" fill="#000"/><rect x="738.85" y="402.45" width="3.3" height="11.8" fill="#fff" stroke="#000" stroke-width="0.9"/><rect x="745.25" y="384.95" width="3.3" height="17.4" fill="#fff" stroke="#000" stroke-width="0.9"/><rect x="751.65" y="387.95" width="3.3" height="2.7" fill="#fff" stroke="#000" stroke-width="0.9"/><rect x="757.5" y="387.7" width="4.4" height="7.1" fill="#000"/><rect x="764.45" y="383.35" width="3.3" height="10.2" fill="#fff" stroke="#000" stroke-width="0.9"/><rect x="770.85" y="358.65" width="3.3" height="23" fill="#fff" stroke="#000" stroke-width="0.9"/><rect x="776.7" y="358.2" width="4.4" height="4" fill="#000"/><rect x="783.1" y="362.5" width="4.4" height="1.5" fill="#000"/><rect x="789.5" y="363" width="4.4" height="15.1" fill="#000"/><rect x="795.9" y="378.1" width="4.4" height="13.6" fill="#000"/><rect x="802.85" y="385.75" width="3.3" height="5.5" fill="#fff" stroke="#000" stroke-width="0.9"/><rect x="809.25" y="365.05" width="3.3" height="19.8" fill="#fff" stroke="#000" stroke-width="0.9"/><rect x="815.65" y="346.75" width="3.3" height="15.8" fill="#fff" stroke="#000" stroke-width="0.9"/><rect x="821.5" y="345.5" width="4.4" height="9.5" fill="#000"/><rect x="827.9" y="354.2" width="4.4" height="30.3" fill="#000"/><rect x="834.3" y="384.5" width="4.4" height="10.3" fill="#000"/><rect x="841.25" y="387.75" width="3.3" height="6.8" fill="#fff" stroke="#000" stroke-width="0.9"/><rect x="847.1" y="387.7" width="4.4" height="21.3" fill="#000"/><rect x="854.05" y="398.35" width="3.3" height="10.2" fill="#fff" stroke="#000" stroke-width="0.9"/><rect x="859.9" y="397.9" width="4.4" height="24.6" fill="#000"/><rect x="866.3" y="422.5" width="4.4" height="37.5" fill="#000"/><rect x="873.25" y="444.45" width="3.3" height="15.1" fill="#fff" stroke="#000" stroke-width="0.9"/><rect x="879.1" y="444.8" width="4.4" height="5.6" fill="#000"/><rect x="885.5" y="450.4" width="4.4" height="4" fill="#000"/><rect x="891.9" y="455.2" width="4.4" height="3.2" fill="#000"/><rect x="898.85" y="446.05" width="3.3" height="11.1" fill="#fff" stroke="#000" stroke-width="0.9"/><rect x="904.7" y="447.5" width="4.4" height="1.5" fill="#000"/><rect x="911.65" y="445.85" width="3.3" height="2.7" fill="#fff" stroke="#000" stroke-width="0.9"/><rect x="917.5" y="446.4" width="4.4" height="18.3" fill="#000"/><rect x="924.45" y="459.65" width="3.3" height="4.6" fill="#fff" stroke="#000" stroke-width="0.9"/><rect x="930.3" y="459.2" width="4.4" height="39.8" fill="#000"/><rect x="936.7" y="497.85" width="4.4" height="1.5" fill="#000"/><rect x="943.1" y="499" width="4.4" height="37.4" fill="#000"/><rect x="949.5" y="536.6" width="4.4" height="26.2" fill="#000"/><rect x="956.45" y="546.65" width="3.3" height="15.8" fill="#fff" stroke="#000" stroke-width="0.9"/><rect x="962.85" y="538.55" width="3.3" height="7.2" fill="#fff" stroke="#000" stroke-width="0.9"/><rect x="968.7" y="536.95" width="4.4" height="1.5" fill="#000"/><rect x="975.65" y="525.05" width="3.3" height="11.8" fill="#fff" stroke="#000" stroke-width="0.9"/><rect x="982.05" y="521.45" width="3.3" height="2.7" fill="#fff" stroke="#000" stroke-width="0.9"/><rect x="987.9" y="520" width="4.4" height="1.5" fill="#000"/><rect x="994.85" y="511.15" width="3.3" height="9" fill="#fff" stroke="#000" stroke-width="0.9"/><rect x="1001.25" y="458.85" width="3.3" height="51.2" fill="#fff" stroke="#000" stroke-width="0.9"/><rect x="1007.1" y="458.5" width="4.4" height="41.8" fill="#000"/><rect x="1013.5" y="500.3" width="4.4" height="32.9" fill="#000"/><rect x="1020.45" y="507.85" width="3.3" height="25.6" fill="#fff" stroke="#000" stroke-width="0.9"/><rect x="1026.85" y="489.55" width="3.3" height="17.4" fill="#fff" stroke="#000" stroke-width="0.9"/><rect x="1033.25" y="466.85" width="3.3" height="21.2" fill="#fff" stroke="#000" stroke-width="0.9"/><rect x="1039.1" y="466.2" width="4.4" height="1.5" fill="#000"/><rect x="1046.05" y="452.55" width="3.3" height="15" fill="#fff" stroke="#000" stroke-width="0.9"/><rect x="1051.9" y="452.1" width="4.4" height="1.9" fill="#000"/><rect x="1058.3" y="460.15" width="4.4" height="1.5" fill="#000"/><rect x="1065.25" y="445.35" width="3.3" height="15.9" fill="#fff" stroke="#000" stroke-width="0.9"/><rect x="1071.65" y="429.45" width="3.3" height="15.8" fill="#fff" stroke="#000" stroke-width="0.9"/><rect x="1078.05" y="426.7" width="3.3" height="2.7" fill="#fff" stroke="#000" stroke-width="0.9"/><rect x="1083.9" y="424.7" width="4.4" height="13.1" fill="#000"/><rect x="1090.3" y="437.45" width="4.4" height="1.5" fill="#000"/><rect x="1097.25" y="433.45" width="3.3" height="4.7" fill="#fff" stroke="#000" stroke-width="0.9"/><rect x="1103.65" y="417.55" width="3.3" height="15.8" fill="#fff" stroke="#000" stroke-width="0.9"/><rect x="1110.05" y="412.75" width="3.3" height="3.9" fill="#fff" stroke="#000" stroke-width="0.9"/><rect x="1115.9" y="412.3" width="4.4" height="22.3" fill="#000"/><rect x="1122.85" y="419.15" width="3.3" height="15.8" fill="#fff" stroke="#000" stroke-width="0.9"/><rect x="1128.7" y="418.7" width="4.4" height="15.9" fill="#000"/><rect x="1135.65" y="426.25" width="3.3" height="7.9" fill="#fff" stroke="#000" stroke-width="0.9"/><rect x="1141.5" y="426.3" width="4.4" height="4.3" fill="#000"/><rect x="1147.9" y="431.1" width="4.4" height="4.3" fill="#000"/><rect x="1154.3" y="436.2" width="4.4" height="38.8" fill="#000"/><rect x="1160.7" y="475.4" width="4.4" height="8.4" fill="#000"/><rect x="1167.65" y="443.55" width="3.3" height="40.5" fill="#fff" stroke="#000" stroke-width="0.9"/><rect x="1173.5" y="443.1" width="4.4" height="20.4" fill="#000"/><rect x="1180.45" y="440.65" width="3.3" height="22.6" fill="#fff" stroke="#000" stroke-width="0.9"/><rect x="1186.3" y="440.2" width="4.4" height="21.4" fill="#000"/><rect x="1192.7" y="461.4" width="4.4" height="20.7" fill="#000"/><rect x="1199.1" y="482.1" width="4.4" height="12.7" fill="#000"/><rect x="1205.5" y="494.8" width="4.4" height="6.4" fill="#000"/><rect x="1212.45" y="499.15" width="3.3" height="2.7" fill="#fff" stroke="#000" stroke-width="0.9"/><rect x="1218.85" y="497.55" width="3.3" height="2.7" fill="#fff" stroke="#000" stroke-width="0.9"/><rect x="1224.7" y="498" width="4.4" height="27.9" fill="#000"/><rect x="1231.1" y="525.9" width="4.4" height="27.1" fill="#000"/><rect x="1238.05" y="550.6" width="3.3" height="2.7" fill="#fff" stroke="#000" stroke-width="0.9"/><rect x="1243.9" y="550.6" width="4.4" height="15.9" fill="#000"/><rect x="1250.3" y="566.5" width="4.4" height="6.4" fill="#000"/><rect x="1256.7" y="572.3" width="4.4" height="1.5" fill="#000"/><rect x="1263.1" y="573.7" width="4.4" height="8.8" fill="#000"/><rect x="1270.05" y="562.95" width="3.3" height="19.1" fill="#fff" stroke="#000" stroke-width="0.9"/><rect x="1275.9" y="561.8" width="4.4" height="15.9" fill="#000"/><rect x="1282.3" y="577.7" width="4.4" height="17.9" fill="#000"/><rect x="1288.7" y="596" width="4.4" height="10.8" fill="#000"/><rect x="1295.65" y="597.05" width="3.3" height="9" fill="#fff" stroke="#000" stroke-width="0.9"/><rect x="1302.05" y="584.45" width="3.3" height="11.7" fill="#fff" stroke="#000" stroke-width="0.9"/><rect x="1307.9" y="584" width="4.4" height="9.6" fill="#000"/><rect x="1314.3" y="593.6" width="4.4" height="32.2" fill="#000"/><rect x="1321.25" y="601.85" width="3.3" height="22.9" fill="#fff" stroke="#000" stroke-width="0.9"/><rect x="1327.65" y="598.7" width="3.3" height="2.7" fill="#fff" stroke="#000" stroke-width="0.9"/><rect x="1334.05" y="586.65" width="3.3" height="11.7" fill="#fff" stroke="#000" stroke-width="0.9"/><rect x="1340.45" y="578.75" width="3.3" height="6.8" fill="#fff" stroke="#000" stroke-width="0.9"/><rect x="1346.85" y="576.05" width="3.3" height="2.7" fill="#fff" stroke="#000" stroke-width="0.9"/><rect x="1352.7" y="576.25" width="4.4" height="1.5" fill="#000"/><rect x="1359.1" y="576.6" width="4.4" height="4" fill="#000"/><rect x="1365.5" y="587.8" width="4.4" height="8.7" fill="#000"/><rect x="1371.9" y="595.35" width="4.4" height="1.5" fill="#000"/><rect x="1378.85" y="584.25" width="3.3" height="12.6" fill="#fff" stroke="#000" stroke-width="0.9"/><rect x="1384.7" y="583" width="4.4" height="27.9" fill="#000"/><rect x="1391.1" y="609.9" width="4.4" height="1.5" fill="#000"/><rect x="1397.5" y="609.55" width="4.4" height="1.5" fill="#000"/><rect x="1403.9" y="610.7" width="4.4" height="34.3" fill="#000"/><rect x="1410.85" y="637.85" width="3.3" height="7.1" fill="#fff" stroke="#000" stroke-width="0.9"/><rect x="1416.7" y="637.4" width="4.4" height="2.2" fill="#000"/><rect x="1423.1" y="639.6" width="4.4" height="29.9" fill="#000"/><rect x="1430.05" y="666.95" width="3.3" height="2.7" fill="#fff" stroke="#000" stroke-width="0.9"/><rect x="1435.9" y="667.1" width="4.4" height="2.4" fill="#000"/><rect x="1442.85" y="638.85" width="3.3" height="30.2" fill="#fff" stroke="#000" stroke-width="0.9"/><rect x="1448.7" y="638.7" width="4.4" height="6.9" fill="#000"/><rect x="1455.1" y="644.9" width="4.4" height="21.4" fill="#000"/><rect x="1462.05" y="635.75" width="3.3" height="30.1" fill="#fff" stroke="#000" stroke-width="0.9"/><rect x="1468.45" y="617.35" width="3.3" height="18.3" fill="#fff" stroke="#000" stroke-width="0.9"/><rect x="1474.3" y="617" width="4.4" height="1.5" fill="#000"/><rect x="1481.25" y="587.75" width="3.3" height="30.2" fill="#fff" stroke="#000" stroke-width="0.9"/><rect x="1487.1" y="587.3" width="4.4" height="13.6" fill="#000"/><rect x="1494.05" y="598.4" width="3.3" height="2.7" fill="#fff" stroke="#000" stroke-width="0.9"/><rect x="1500.45" y="594.75" width="3.3" height="2.7" fill="#fff" stroke="#000" stroke-width="0.9"/><rect x="1506.3" y="594.55" width="4.4" height="1.5" fill="#000"/><rect x="1512.7" y="596.1" width="4.4" height="7.9" fill="#000"/><rect x="1519.65" y="604.45" width="3.3" height="5.5" fill="#fff" stroke="#000" stroke-width="0.9"/><rect x="1526.05" y="582.25" width="3.3" height="21.8" fill="#fff" stroke="#000" stroke-width="0.9"/><rect x="1531.9" y="581.8" width="4.4" height="5.5" fill="#000"/><rect x="1538.3" y="587.3" width="4.4" height="11.2" fill="#000"/><rect x="1544.7" y="598.5" width="4.4" height="19.2" fill="#000"/><rect x="1551.65" y="611.35" width="3.3" height="5.9" fill="#fff" stroke="#000" stroke-width="0.9"/></g>
<rect x="0" y="709" width="1961" height="1" fill="#c8c8c8"/>
<rect x="1961" y="1" width="1.1" height="709" fill="#4a4a4a"/>
<rect x="1962" y="28.1" width="3" height="1" fill="#4a4a4a"/>
<text x="1967.2" y="32.3" font-size="10" fill="#1a1a1a" textLength="35.8" lengthAdjust="spacingAndGlyphs">147.305</text>
<rect x="1962" y="67.19" width="3" height="1" fill="#4a4a4a"/>
<text x="1967.2" y="71.39" font-size="10" fill="#1a1a1a" textLength="35.8" lengthAdjust="spacingAndGlyphs">146.850</text>
<rect x="1962" y="106.7" width="3" height="1" fill="#4a4a4a"/>
<text x="1967.2" y="110.9" font-size="10" fill="#1a1a1a" textLength="35.8" lengthAdjust="spacingAndGlyphs">146.390</text>
<rect x="1962" y="145.79" width="3" height="1" fill="#4a4a4a"/>
<text x="1967.2" y="149.99" font-size="10" fill="#1a1a1a" textLength="35.8" lengthAdjust="spacingAndGlyphs">145.935</text>
<rect x="1962" y="184.87" width="3" height="1" fill="#4a4a4a"/>
<text x="1967.2" y="189.07" font-size="10" fill="#1a1a1a" textLength="35.8" lengthAdjust="spacingAndGlyphs">145.480</text>
<rect x="1962" y="223.96" width="3" height="1" fill="#4a4a4a"/>
<text x="1967.2" y="228.16" font-size="10" fill="#1a1a1a" textLength="35.8" lengthAdjust="spacingAndGlyphs">145.025</text>
<rect x="1962" y="263.05" width="3" height="1" fill="#4a4a4a"/>
<text x="1967.2" y="267.25" font-size="10" fill="#1a1a1a" textLength="35.8" lengthAdjust="spacingAndGlyphs">144.570</text>
<rect x="1962" y="302.56" width="3" height="1" fill="#4a4a4a"/>
<text x="1967.2" y="306.76" font-size="10" fill="#1a1a1a" textLength="35.8" lengthAdjust="spacingAndGlyphs">144.110</text>
<rect x="1962" y="341.65" width="3" height="1" fill="#4a4a4a"/>
<text x="1967.2" y="345.85" font-size="10" fill="#1a1a1a" textLength="35.8" lengthAdjust="spacingAndGlyphs">143.655</text>
<rect x="1962" y="380.73" width="3" height="1" fill="#4a4a4a"/>
<text x="1967.2" y="384.93" font-size="10" fill="#1a1a1a" textLength="35.8" lengthAdjust="spacingAndGlyphs">143.200</text>
<rect x="1962" y="419.82" width="3" height="1" fill="#4a4a4a"/>
<text x="1967.2" y="424.02" font-size="10" fill="#1a1a1a" textLength="35.8" lengthAdjust="spacingAndGlyphs">142.745</text>
<rect x="1962" y="459.33" width="3" height="1" fill="#4a4a4a"/>
<text x="1967.2" y="463.53" font-size="10" fill="#1a1a1a" textLength="35.8" lengthAdjust="spacingAndGlyphs">142.285</text>
<rect x="1962" y="498.42" width="3" height="1" fill="#4a4a4a"/>
<text x="1967.2" y="502.62" font-size="10" fill="#1a1a1a" textLength="35.8" lengthAdjust="spacingAndGlyphs">141.830</text>
<rect x="1962" y="537.51" width="3" height="1" fill="#4a4a4a"/>
<text x="1967.2" y="541.71" font-size="10" fill="#1a1a1a" textLength="35.8" lengthAdjust="spacingAndGlyphs">141.375</text>
<rect x="1962" y="576.59" width="3" height="1" fill="#4a4a4a"/>
<text x="1967.2" y="580.79" font-size="10" fill="#1a1a1a" textLength="35.8" lengthAdjust="spacingAndGlyphs">140.920</text>
<rect x="1962" y="616.11" width="3" height="1" fill="#4a4a4a"/>
<text x="1967.2" y="620.31" font-size="10" fill="#1a1a1a" textLength="35.8" lengthAdjust="spacingAndGlyphs">140.460</text>
<rect x="1962" y="655.19" width="3" height="1" fill="#4a4a4a"/>
<text x="1967.2" y="659.39" font-size="10" fill="#1a1a1a" textLength="35.8" lengthAdjust="spacingAndGlyphs">140.005</text>
<rect x="1962" y="694.28" width="3" height="1" fill="#4a4a4a"/>
<text x="1967.2" y="698.48" font-size="10" fill="#1a1a1a" textLength="35.8" lengthAdjust="spacingAndGlyphs">139.550</text>
<rect x="1962.8" y="169.6" width="45" height="11.2" fill="#9400d3"/>
<text x="1967.4" y="179" font-size="10" fill="#fff" textLength="35.6" lengthAdjust="spacingAndGlyphs">145.603</text>
<rect x="1962.8" y="407.2" width="45" height="11.2" fill="#9400d3"/>
<text x="1967.4" y="416.6" font-size="10" fill="#fff" textLength="35.6" lengthAdjust="spacingAndGlyphs">142.834</text>
<rect x="1963" y="605.1" width="44.8" height="10.6" fill="#000"/>
<text x="1967.5" y="614.5" font-size="10" fill="#fff" textLength="35.7" lengthAdjust="spacingAndGlyphs">140.530</text>
<rect x="1901.2" y="575.1" width="55.8" height="14.6" rx="2" ry="2" fill="#000"/>
<text x="1910.5" y="587.4" font-size="12.5" fill="#e8e8e8" textLength="36.4" lengthAdjust="spacingAndGlyphs">BB ON</text>
<polygon points="0,8 7.4,8 3.7,11.6" fill="#000"/>
<text x="12.3" y="13.7" font-size="10" fill="#1a1a1a" textLength="48.3" lengthAdjust="spacingAndGlyphs">USDJPY,H1</text>
<text x="68.6" y="13.7" font-size="10" fill="#1a1a1a" textLength="35.4" lengthAdjust="spacingAndGlyphs">140.450</text>
<text x="108.6" y="13.7" font-size="10" fill="#1a1a1a" textLength="35.4" lengthAdjust="spacingAndGlyphs">140.550</text>
<text x="148.6" y="13.7" font-size="10" fill="#1a1a1a" textLength="35.4" lengthAdjust="spacingAndGlyphs">140.320</text>
<text x="188.6" y="13.7" font-size="10" fill="#1a1a1a" textLength="35.4" lengthAdjust="spacingAndGlyphs">140.530</text>
</svg></body></html>
